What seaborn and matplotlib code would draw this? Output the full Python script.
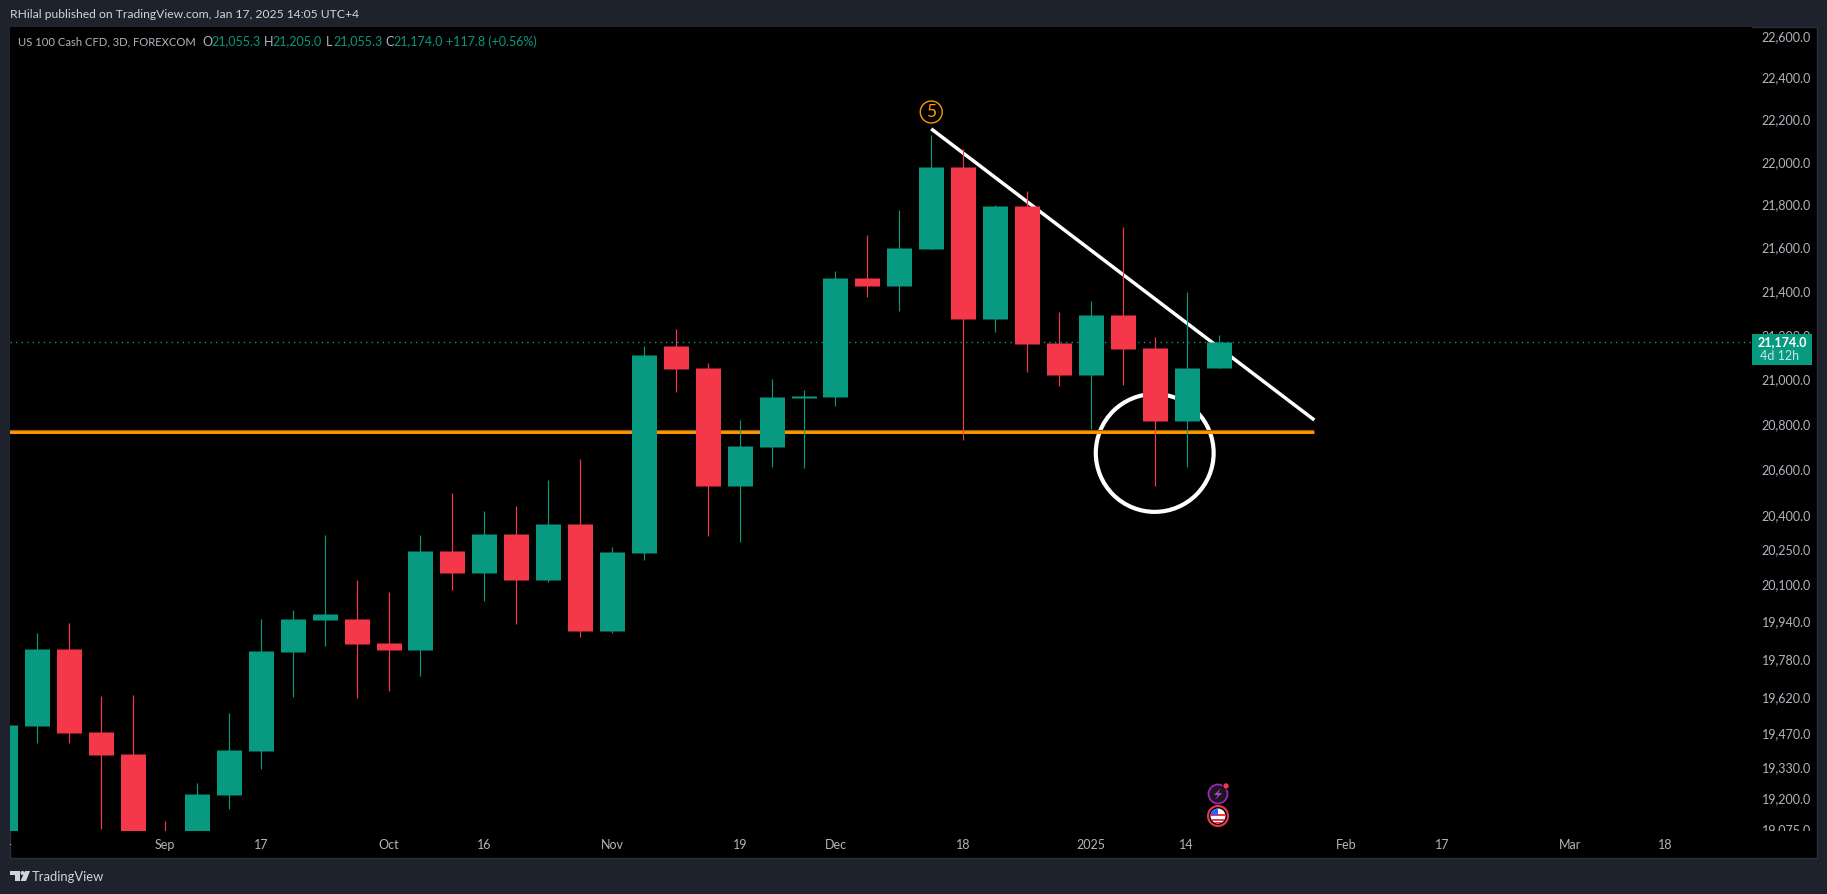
from matplotlib import pyplot as plt
from matplotlib.patches import Circle, Polygon, Rectangle
from matplotlib.transforms import Bbox
import pandas as pd
import seaborn as sns

W, H = 1827, 894

# 3D candles, left to right
opens = [19040, 19503, 19827, 19478, 19387, 19060, 18990, 19217, 19400, 19814,
         19950, 19955, 19852, 19823, 20247, 20152, 20321, 20122, 20364, 19903,
         20238, 21155, 21054, 20531, 20703, 20920, 20925, 21465, 21428, 21598,
         21980, 21277, 21798, 21168, 21023, 21296, 21146, 20818, 21055.3]
highs = [19507, 19895, 19938, 19628, 19633, 19111, 19267, 19558, 19955, 19993,
         20317, 20122, 20070, 20317, 20500, 20421, 20443, 20557, 20650, 20264,
         21155, 21232, 21077, 20822, 21005, 20956, 21497, 21663, 21779, 22131,
         22065, 21802, 21868, 21309, 21359, 21700, 21196, 21400, 21205.0]
lows = [19000, 19433, 19433, 19079, 19000, 18950, 18960, 19160, 19325, 19624,
        19840, 19620, 19649, 19713, 20079, 20032, 19933, 20113, 19878, 19895,
        20208, 20947, 20312, 20288, 20614, 20610, 20885, 21377, 21314, 21598,
        20734, 21218, 21036, 20973, 20782, 20978, 20531, 20614, 21055.3]
closes = [19507, 19827, 19474, 19383, 19040, 18980, 19221, 19404, 19818, 19955,
          19976, 19848, 19823, 20247, 20152, 20321, 20122, 20364, 19903, 20243,
          21114, 21050, 20531, 20707, 20925, 20929, 21465, 21428, 21603, 21980,
          21277, 21798, 21164, 21023, 21296, 21141, 20818, 21055, 21174.0]

price_ticks = [22600, 22400, 22200, 22000, 21800, 21600, 21400, 21200, 21000, 20800,
               20600, 20400, 20250, 20100, 19940, 19780, 19620, 19470, 19330, 19200, 19075]
date_ticks = [5, 8, 12, 15, 19, 23, 26, 30, 34, 37, 42, 45, 49, 52]
date_labels = ["Sep", "17", "Oct", "16", "Nov", "19", "Dec", "18", "2025",
               "14", "Feb", "17", "Mar", "18"]

last_price = 21174.0
support_price = 20769
trend_x = [29, 41]
trend_y = [22160, 20822]
circle_x, circle_y = 36, 20676
wave_x, wave_y = 29, 22240

GREEN = "#089981"
RED = "#f5374a"
ORANGE = "#ff9800"
FRAME = "#1e222d"
GREY = "#b2b5be"

bars = pd.DataFrame({"open": opens, "high": highs, "low": lows, "close": closes})
bars["bar"] = range(len(bars))
bars["side"] = ["up" if c >= o else "down" for o, c in zip(opens, closes)]
wicks = bars.melt(id_vars=["bar", "side"], value_vars=["high", "low"], value_name="price")
bodies = bars.melt(id_vars=["bar", "side"], value_vars=["open", "close"], value_name="price")

sns.set_style("dark")
plt.rcParams["font.family"] = ["Lato", "DejaVu Sans"]
plt.rcParams["text.color"] = GREY

fig = plt.figure(figsize=(W / 100, H / 100), dpi=100, facecolor=FRAME)

# pixel layer behind the chart: black panel
back = fig.add_axes([0, 0, 1, 1], zorder=0)
back.set_xlim(0, W)
back.set_ylim(H, 0)
back.axis("off")
back.add_patch(Rectangle((10, 27), 1807, 831, fc="black", ec="#2a2e39", lw=1))

ax = fig.add_axes([10 / W, (H - 831) / H, 1742 / W, 804 / H], zorder=1, facecolor="black")
ax.set_yscale("log")

ax.axhline(last_price, color=GREEN, lw=1, ls=(0, (1, 3)), zorder=1)
ax.scatter([circle_x], [circle_y], s=7200, facecolors="none", edgecolors="white", linewidths=3, zorder=2)
ax.plot([-2, 41], [support_price, support_price], color="#9c5f06", lw=3, solid_capstyle="butt", zorder=2.5)
ax.plot([-2, 41], [support_price, support_price], color=ORANGE, lw=2, solid_capstyle="butt", zorder=2.6)
ax.plot(trend_x, trend_y, color="white", lw=2.5, solid_capstyle="butt", zorder=2.7)

palette = {"up": GREEN, "down": RED}
sns.lineplot(data=wicks, x="bar", y="price", hue="side", units="bar", estimator=None, palette=palette,
             legend=False, lw=0.85, solid_capstyle="butt", zorder=4, ax=ax)
sns.lineplot(data=bodies, x="bar", y="price", hue="side", units="bar", estimator=None, palette=palette,
             legend=False, lw=18, solid_capstyle="butt", zorder=5, ax=ax)

ax.scatter([wave_x], [wave_y], s=250, facecolors="none", edgecolors=ORANGE, linewidths=1, zorder=6)
ax.text(wave_x, wave_y, "5", color=ORANGE, fontsize=12.5, ha="center", va="center", zorder=6)

ax.set_xlabel("")
ax.set_ylabel("")
for s in ax.spines.values():
    s.set_visible(False)
ax.grid(False)

ax.yaxis.tick_right()
ax.set_yticks(price_ticks)
ax.set_yticklabels([f"{p:,.1f}" for p in price_ticks])
ax.minorticks_off()
ax.tick_params(axis="y", length=0, pad=42.4, labelsize=9, labelcolor=GREY)
ax.set_xticks(date_ticks)
ax.set_xticklabels(date_labels)
ax.tick_params(axis="x", length=0, pad=6, labelsize=9, labelcolor=GREY)
ax.set_xlim(0.141, 54.71)
ax.set_ylim(19070, 22648)
for lab in ax.get_yticklabels():
    lab.set_ha("right")
    lab.set_va("center")
    lab.set_clip_on(True)
    lab.set_clip_box(Bbox([[1752, H - 831], [W, H]]))

# pixel layer on top: header, price tag, logo, event icons
top = fig.add_axes([0, 0, 1, 1], zorder=2)
top.set_xlim(0, W)
top.set_ylim(H, 0)
top.axis("off")
top.patch.set_alpha(0)

# the first date label sits half outside the panel, so it is cut at the left edge
cut = top.text(5.5, 844, "14", fontsize=9, color=GREY, ha="center", va="center")
cut.set_clip_on(True)
cut.set_clip_box(Bbox([[10, 0], [W, H]]))

top.text(10, 15, "RHilal published on TradingView.com, Jan 17, 2025 14:05 UTC+4", fontsize=8.7,
         color="#d1d4dc", va="center")
top.text(18, 41.5, "US 100 Cash CFD, 3D, FOREXCOM", fontsize=8.1, color=GREY, va="center")
legend_parts = [(202, "O", GREY), (211, "21,055.3", GREEN), (264, "H", GREY), (272, "21,205.0", GREEN),
                (326, "L", GREY), (333, "21,055.3", GREEN), (385, "C", GREY), (393, "21,174.0", GREEN),
                (446, "+117.8 (+0.56%)", GREEN)]
for x, t, c in legend_parts:
    top.text(x, 41.5, t, fontsize=9, color=c, va="center")

top.add_patch(Rectangle((1752, 334), 60, 31, fc=GREEN, ec="none"))
top.text(1807, 342, f"{last_price:,.1f}", fontsize=9, color="white", fontweight="bold", ha="right", va="center")
top.text(1760, 356, "4d 12h", fontsize=9, color="#c5e8e0", va="center")

logo = "#d1d4dc"
top.add_patch(Polygon([(10, 871), (20, 871), (20, 881), (15, 881), (15, 875), (10, 875)], fc=logo, ec="none"))
top.add_patch(Circle((22.5, 873), 2, fc=logo, ec="none"))
top.add_patch(Polygon([(25, 871), (30, 871), (26, 881), (20.5, 881)], fc=logo, ec="none"))
top.text(32, 877, "TradingView", fontsize=9.4, color=logo, va="center")

# lightning event icon
top.add_patch(Circle((1218, 794), 9.5, fc="#1c1524", ec="#9c27b0", lw=1.3))
top.add_patch(Polygon([(1221, 788), (1214, 795), (1218, 795), (1215, 800), (1222, 793), (1218, 793)],
                      fc="#ab47bc", ec="none"))
top.add_patch(Circle((1226, 786), 3.2, fc=RED, ec="black", lw=0.7))
# US flag event icon
top.add_patch(Circle((1218, 816), 10, fc="black", ec="#f23645", lw=1.5))
flag = Circle((1218, 816), 7.5, fc="white", ec="none")
top.add_patch(flag)
for y0 in [813.5, 818.5, 822]:
    st = Rectangle((1210, y0), 16, 2, fc="#f23645", ec="none")
    top.add_patch(st)
    st.set_clip_path(flag)
canton = Rectangle((1210, 808), 8, 7, fc="#2962ff", ec="none")
top.add_patch(canton)
canton.set_clip_path(flag)

fig.savefig("out.png", dpi=100, facecolor=FRAME)
